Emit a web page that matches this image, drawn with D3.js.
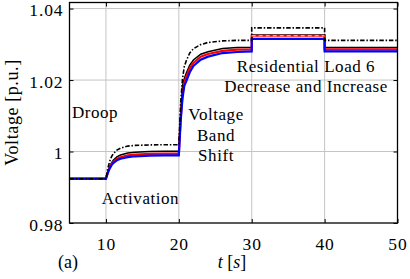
<!DOCTYPE html>
<html>
<head>
<meta charset="utf-8">
<script src="https://cdn.jsdelivr.net/npm/d3@7"></script>
<style>
  body { margin: 0; background: #fff; }
  svg { display: block; font-family: "Liberation Serif", "DejaVu Serif", "Noto Serif", "Times New Roman", Times, serif; }
  .grid line { stroke: #c4c4c4; stroke-width: 1; }
  .axis path { display: none; }
  .axis line { stroke: #000; stroke-width: 1; }
  .axis text { font-family: "Liberation Serif", "DejaVu Serif", "Noto Serif", "Times New Roman", Times, serif; font-size: 17.5px; letter-spacing: 0.9px; fill: #000; }
  .note { font-size: 17px; letter-spacing: 0.55px; fill: #000; }
</style>
</head>
<body>
<script>
// time axis [s]
var time = [5, 10, 10.25, 10.5, 10.75, 11, 11.5, 12, 13, 14, 16, 18, 20,
            20.25, 20.5, 20.75, 21, 21.5, 22, 23, 24, 26, 28, 30, 30, 40, 40, 50];

// voltages [p.u.]
var vDashDot = [0.9924, 0.9924, 0.99525, 0.99715, 0.99848, 0.99934, 1.0004, 1.00095, 1.00152, 1.00171, 1.00185, 1.0019, 1.0019,
                1.01358, 1.0203, 1.0238, 1.02526, 1.0276, 1.02876, 1.02993, 1.03052, 1.03095, 1.0311, 1.0311, 1.0346, 1.0346, 1.0311, 1.0311];
var vBlack = [0.9924, 0.9924, 0.99425, 0.99571, 0.99679, 0.99756, 0.99848, 0.99902, 0.99956, 0.99983, 1.00002, 1.0001, 1.0001,
              1.01054, 1.0183, 1.0204, 1.02185, 1.02417, 1.02562, 1.02722, 1.02794, 1.02881, 1.0291, 1.0291, 1.0326, 1.0326, 1.0291, 1.0291];
var vRed = [0.9924, 0.9924, 0.99408, 0.99541, 0.99639, 0.99709, 0.99793, 0.99842, 0.99891, 0.99916, 0.99933, 0.9994, 0.9994,
            1.00933, 1.01575, 1.01926, 1.02072, 1.02334, 1.0248, 1.02656, 1.02729, 1.02816, 1.02851, 1.0286, 1.0324, 1.0324, 1.0286, 1.0286];
var vBlue = [0.9924, 0.9924, 0.99396, 0.9952, 0.99611, 0.99676, 0.99754, 0.99799, 0.99845, 0.99867, 0.99884, 0.9989, 0.9989,
             1.0085, 1.01491, 1.0184, 1.01956, 1.02218, 1.02393, 1.02567, 1.02655, 1.02756, 1.02785, 1.028, 1.0315, 1.0315, 1.028, 1.028];
// white dashed trace that shows on the red one between 30 and 40 s
var tWhite = [30, 40];
var vWhite = [1.0324, 1.0324];

var xTicks = [10, 20, 30, 40, 50],
    yTicks = [0.98, 1, 1.02, 1.04];

var width = 410, height = 279,
    margin = {top: 2.5, right: 12.5, bottom: 56, left: 69.5},
    w = width - margin.left - margin.right,
    h = height - margin.top - margin.bottom;

var svg = d3.select("body").append("svg")
    .attr("width", width)
    .attr("height", height);

var g = svg.append("g")
    .attr("transform", "translate(" + margin.left + "," + margin.top + ")");

var x = d3.scaleLinear().domain([5, 50]).range([0, w]),
    y = d3.scaleLinear().domain([0.98, 1.0417]).range([h, 0]);

// grid
g.append("g").attr("class", "grid")
  .selectAll("line").data(xTicks.slice(0, -1)).enter().append("line")
    .attr("x1", function(d){ return x(d); }).attr("x2", function(d){ return x(d); })
    .attr("y1", 0).attr("y2", h);
g.append("g").attr("class", "grid")
  .selectAll("line").data(yTicks.slice(1)).enter().append("line")
    .attr("y1", function(d){ return y(d); }).attr("y2", function(d){ return y(d); })
    .attr("x1", 0).attr("x2", w);

// series
var line = d3.line()
    .x(function(d){ return x(d[0]); })
    .y(function(d){ return y(d[1]); });

function pts(vals){ return time.map(function(t, i){ return [t, vals[i]]; }); }

var series = [
  {v: vBlack, color: "#000", sw: 1.5, dash: null},
  {v: vRed, color: "#ff0000", sw: 2.2, dash: null},
  {v: vBlue, color: "#0000ff", sw: 2.2, dash: null},
  {v: vDashDot, color: "#000", sw: 1.6, dash: "4.5,1.8,1.5,1.8"}
];

g.selectAll(".line").data(series).enter().append("path")
    .attr("class", "line")
    .attr("fill", "none")
    .attr("stroke", function(d){ return d.color; })
    .attr("stroke-width", function(d){ return d.sw; })
    .attr("stroke-dasharray", function(d){ return d.dash; })
    .attr("d", function(d){ return line(pts(d.v)); });

g.append("path")
    .attr("fill", "none")
    .attr("stroke", "#fff")
    .attr("stroke-width", 0.8)
    .attr("stroke-dasharray", "4,3")
    .attr("d", line(tWhite.map(function(t, i){ return [t, vWhite[i]]; })));

// axes, ticks inward
g.append("g").attr("class", "axis")
    .attr("transform", "translate(0," + h + ")")
    .call(d3.axisBottom(x).tickValues(xTicks).tickSize(-4).tickPadding(14.5));
g.append("g").attr("class", "axis")
    .call(d3.axisTop(x).tickValues(xTicks).tickSize(-4).tickFormat(""));
g.append("g").attr("class", "axis")
    .call(d3.axisLeft(y).tickValues(yTicks).tickSize(-4).tickPadding(6)
      .tickFormat(function(d){ return d === 1 ? "1" : d3.format(".2f")(d); }))
  .selectAll("text").attr("dy", "0.4em");
g.append("g").attr("class", "axis")
    .attr("transform", "translate(" + w + ",0)")
    .call(d3.axisRight(y).tickValues(yTicks).tickSize(-4).tickFormat(""));

g.append("rect")
    .attr("width", w).attr("height", h)
    .attr("fill", "none").attr("stroke", "#000").attr("stroke-width", 1.3);

// labels
svg.append("text")
    .attr("transform", "translate(17.5,112.5) rotate(-90)")
    .attr("text-anchor", "middle")
    .style("font-size", "18px")
    .style("letter-spacing", "0.6px")
    .text("Voltage [p.u.]");

var xl = svg.append("text")
    .attr("x", 232).attr("y", 268)
    .attr("text-anchor", "middle")
    .style("font-size", "18px");
xl.append("tspan").style("font-style", "italic").text("t");
xl.append("tspan").text(" [");
xl.append("tspan").style("font-style", "italic").text("s");
xl.append("tspan").text("]");

svg.append("text").attr("x", 68).attr("y", 268)
    .attr("text-anchor", "middle").style("font-size", "18px").text("(a)");

// annotations
var notes = [
  {t: "Droop", x: 95, y: 118},
  {t: "Activation", x: 140.5, y: 204},
  {t: "Voltage", x: 216, y: 120},
  {t: "Band", x: 216, y: 140.5},
  {t: "Shift", x: 216, y: 160.5},
  {t: "Residential Load 6", x: 306, y: 71.5},
  {t: "Decrease and Increase", x: 306, y: 91.5}
];
svg.selectAll(".note").data(notes).enter().append("text")
    .attr("class", "note")
    .attr("x", function(d){ return d.x; })
    .attr("y", function(d){ return d.y; })
    .attr("text-anchor", "middle")
    .text(function(d){ return d.t; });
</script>
</body>
</html>
